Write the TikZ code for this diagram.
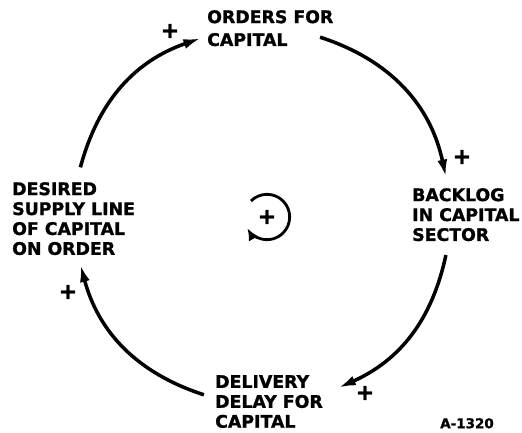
\documentclass[tikz,border=0pt]{standalone}
\usepackage{fontspec}
\setmainfont{DejaVu Sans}[BoldFeatures={FakeBold=1.2}]
\usetikzlibrary{arrows.meta,calc}

\begin{document}
\begin{tikzpicture}[
    var/.style={anchor=north west, inner sep=0pt, align=left,
      font=\bfseries\fontsize{14.8}{17}\selectfont},
    sign/.style={inner sep=0pt, font=\bfseries\fontsize{19}{19}\selectfont},
    flow/.style={-{Latex[length=5.2mm,width=3mm]}, line width=3pt},
    stamp/.style={anchor=north west, inner sep=0pt,
      font=\bfseries\fontsize{11.5}{11.5}\selectfont}
  ]
  \useasboundingbox (0,0) rectangle (15.66,12.99);

  % Variables round the loop
  \node[var, font=\bfseries\fontsize{14.8}{19.5}\selectfont] (orders)
    at (6.21,12.69) {ORDERS FOR\\CAPITAL};
  \node[var] (backlog) at (12.36,7.35) {BACKLOG\\IN CAPITAL\\SECTOR};
  \node[var] (delivery) at (6.45,1.74) {DELIVERY\\DELAY FOR\\CAPITAL};
  \node[var] (desired) at (0.36,7.53)
    {DESIRED\\SUPPLY LINE\\OF CAPITAL\\ON ORDER};

  % Arc ends on one ring
  \coordinate (ring) at (7.86,6.51);
  \coordinate (d-out) at ($(ring)+(165:5.64)$);
  \coordinate (o-in) at ($(ring)+(109:5.64)$);
  \coordinate (o-out) at ($(ring)+(72:5.64)$);
  \coordinate (b-in) at ($(ring)+(12:5.64)$);
  \coordinate (b-out) at ($(ring)+(-12:5.64)$);
  \coordinate (l-in) at ($(ring)+(-66:5.64)$);
  \coordinate (l-out) at ($(ring)+(-108:5.64)$);
  \coordinate (d-in) at ($(ring)+(-165:5.64)$);

  % Links
  \draw[flow] (d-out) to[bend left=28] (o-in);
  \draw[flow] (o-out) to[bend left=30] (b-in);
  \draw[flow] (b-out) to[bend left=27] (l-in);
  \draw[flow] (l-out) to[bend left=28.5] (d-in);

  % Polarities
  \node[sign] (s1) at (5.10,12.06) {+};
  \node[sign] (s2) at (13.86,8.28) {+};
  \node[sign] (s3) at (10.95,1.20) {+};
  \node[sign] (s4) at (2.04,4.23) {+};

  % Loop sign
  \node[sign] (hub) at (8.01,6.48) {+};
  \draw[line width=2.4pt, -{Latex[length=3.6mm,width=3.2mm]}]
    ([shift={(135:0.68)}]hub.center)
    arc[start angle=135, end angle=-150, radius=0.68];

  \node[stamp] (code) at (13.2,0.45) {A-1320};
\end{tikzpicture}
\end{document}
